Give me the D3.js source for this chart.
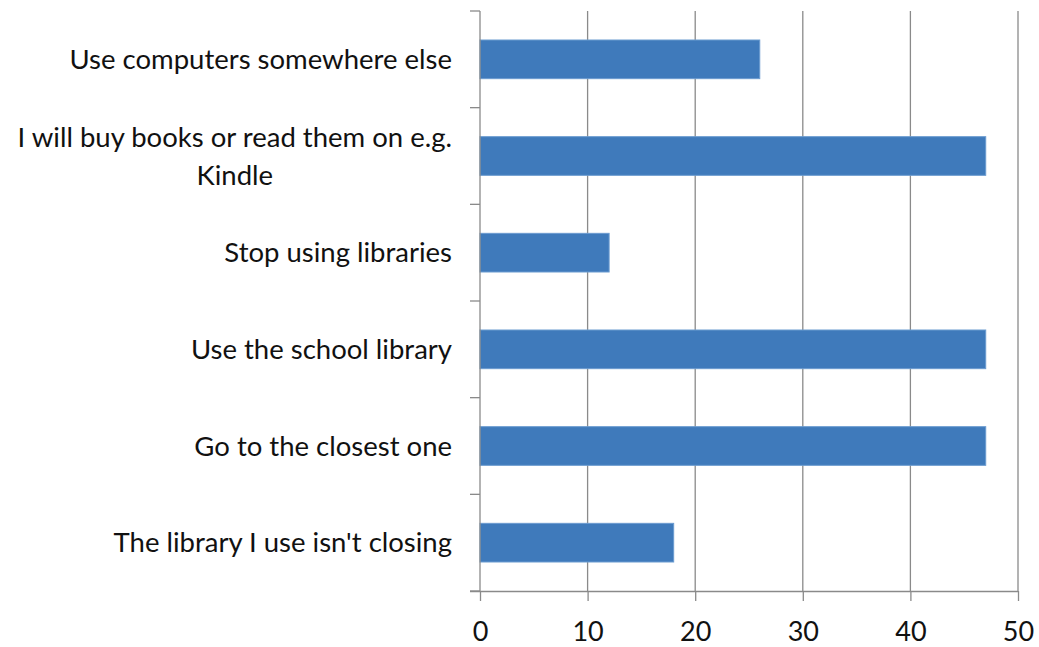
<!DOCTYPE html>
<html><head><meta charset="utf-8">
<script src="https://cdn.jsdelivr.net/npm/d3@7"></script>
<style>body{margin:0;background:#fff}svg{display:block}text{font-family:Lato,"Open Sans",sans-serif;fill:#111}</style>
</head><body><svg id="c" width="1039" height="647"></svg>
<script>
const categories = ["Use computers somewhere else", "I will buy books or read them on e.g. Kindle", "Stop using libraries", "Use the school library", "Go to the closest one", "The library I use isn't closing"];
const labelLines = [["Use computers somewhere else"], ["I will buy books or read them on e.g.", "Kindle"], ["Stop using libraries"], ["Use the school library"], ["Go to the closest one"], ["The library I use isn't closing"]];
const values = [26, 47, 12, 47, 47, 18];
const xTicks = [0, 10, 20, 30, 40, 50];

const svg = d3.select("#c");
const m = {l: 480, r: 1018, t: 11, b: 591};
const x = d3.scaleLinear().domain([0, 50]).range([m.l, m.r]);
const y = d3.scaleBand().domain(categories).range([m.t, m.b]).paddingInner(0.6).paddingOuter(0.3);
const yb = d3.scaleBand().domain(categories).range([m.t, m.b]);

// gridlines
svg.append("g").selectAll("line").data(xTicks.slice(1)).join("line")
  .attr("x1", d => x(d)).attr("x2", d => x(d)).attr("y1", m.t).attr("y2", m.b)
  .attr("stroke", "#8a8a8a").attr("stroke-width", 1.3);

// bars
svg.append("g").selectAll("rect").data(values).join("rect")
  .attr("x", x(0)).attr("y", (d, i) => y(categories[i]))
  .attr("width", d => x(d) - x(0)).attr("height", y.bandwidth())
  .attr("fill", "#3f7abb").attr("stroke", "#6b9bd0").attr("stroke-width", 1);

// x axis
const xa = svg.append("g").attr("transform", `translate(0,${m.b})`)
  .call(d3.axisBottom(x).tickValues(xTicks).tickSize(10).tickPadding(21).tickSizeOuter(0));
xa.select(".domain").attr("stroke", "#8a8a8a").attr("stroke-width", 1.3).attr("d", `M${m.l - 10},0.5H${m.r}`);
xa.selectAll(".tick line").attr("stroke", "#8a8a8a").attr("stroke-width", 1.3);
xa.selectAll(".tick text").attr("font-size", 27).attr("fill", "#111").attr("font-family", "Lato, sans-serif");

// y axis
const ticksY = categories.map(c => yb(c)).concat([m.b]);
svg.append("line").attr("x1", m.l).attr("x2", m.l).attr("y1", m.t).attr("y2", m.b)
  .attr("stroke", "#8a8a8a").attr("stroke-width", 1.3);
svg.append("g").selectAll("line").data(ticksY).join("line")
  .attr("x1", m.l - 10).attr("x2", m.l).attr("y1", d => d).attr("y2", d => d)
  .attr("stroke", "#8a8a8a").attr("stroke-width", 1.3);

// labels
const lh = 38;
const lg = svg.append("g");
categories.forEach((c, i) => {
  const lines = labelLines[i];
  const cy = yb(c) + yb.bandwidth() / 2;
  const t = lg.append("text").attr("text-anchor", "middle").attr("font-size", 27.5);
  const w = lines.length;
  lines.forEach((ln, j) => {
    t.append("tspan").attr("x", 0).attr("y", cy + (j - (w - 1) / 2) * lh).attr("dy", "0.35em").text(ln);
  });
  const bb = t.node().getBBox();
  t.attr("transform", `translate(${452 - bb.width / 2},0)`);
});
</script></body></html>
